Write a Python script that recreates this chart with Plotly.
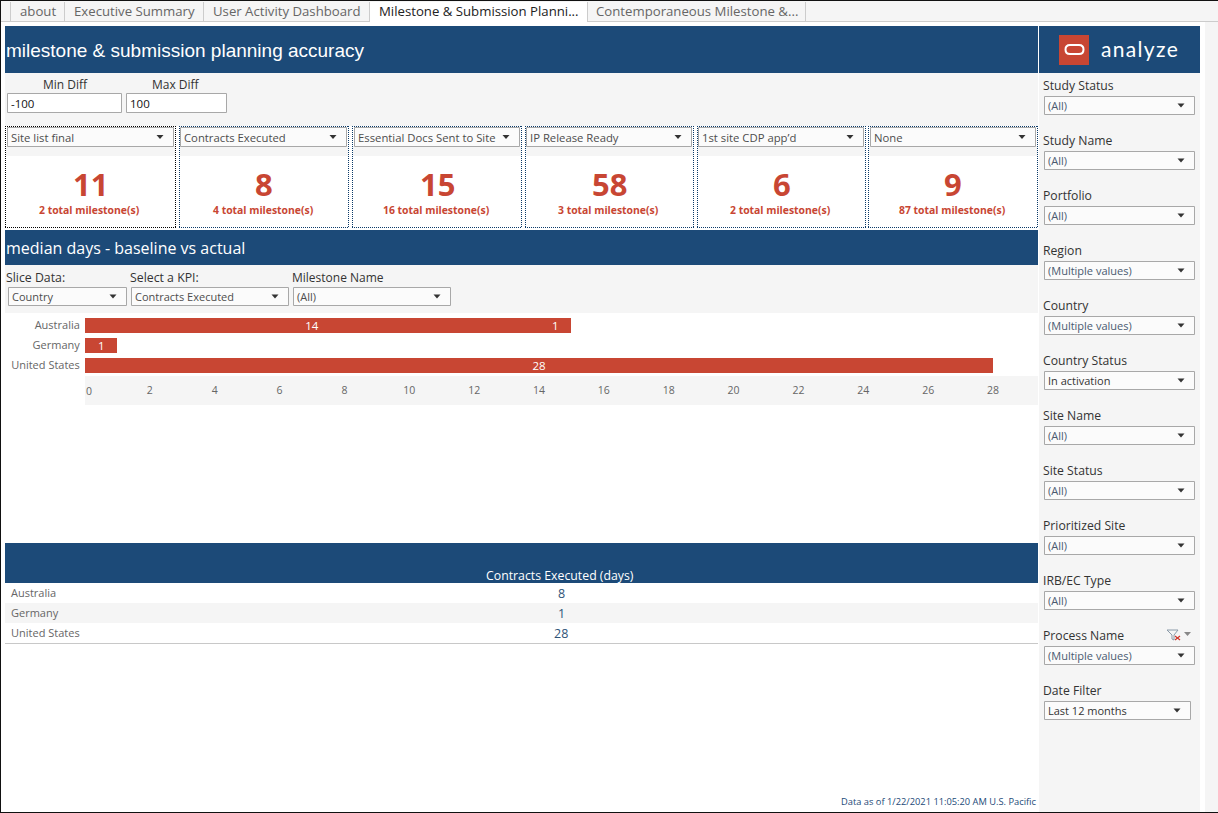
import plotly.graph_objects as go

# ---------- data ----------
categories = ["Australia", "Germany", "United States"]
first_segment = [14, 1, 28]
second_segment = [1, None, None]
axis_ticks = [0, 2, 4, 6, 8, 10, 12, 14, 16, 18, 20, 22, 24, 26, 28]
table_values = [8, 1, 28]
table_title = "Contracts Executed (days)"

kpi_names = ["Site list final", "Contracts Executed", "Essential Docs Sent to Site",
             "IP Release Ready", "1st site CDP app\u2019d", "None"]
kpi_values = [11, 8, 15, 58, 6, 9]
kpi_totals = [2, 4, 16, 3, 2, 87]

tabs = ["about", "Executive Summary", "User Activity Dashboard",
        "Milestone & Submission Planni...", "Contemporaneous Milestone &..."]
filter_names = ["Study Status", "Study Name", "Portfolio", "Region", "Country", "Country Status",
                "Site Name", "Site Status", "Prioritized Site", "IRB/EC Type", "Process Name", "Date Filter"]
filter_values = ["(All)", "(All)", "(All)", "(Multiple values)", "(Multiple values)", "In activation",
                 "(All)", "(All)", "(All)", "(All)", "(Multiple values)", "Last 12 months"]

# ---------- style ----------
W, H = 1218, 813
FONT = "Open Sans"
ARIAL = "Liberation Sans"
BLUE = "#1c4a78"
RED = "#c84633"
GREY = "#f5f5f5"
BOX = "#a8a8a8"

shapes, notes = [], []


def fx(x):
    return x / W


def fy(y):
    return 1 - y / H


def rect(x0, y0, x1, y1, fill=None, line=None, width=1, dash=None):
    shapes.append(dict(type="rect", xref="paper", yref="paper", layer="below",
                       x0=fx(x0), x1=fx(x1), y0=fy(y0), y1=fy(y1),
                       fillcolor=fill or "rgba(0,0,0,0)",
                       line=dict(color=line or "rgba(0,0,0,0)", width=width if line else 0, dash=dash)))


def seg(x0, y0, x1, y1, color, width=1, dash=None):
    shapes.append(dict(type="line", xref="paper", yref="paper", layer="below",
                       x0=fx(x0), x1=fx(x1), y0=fy(y0), y1=fy(y1),
                       line=dict(color=color, width=width, dash=dash)))


def poly(points, fill=None, line=None, width=1):
    d = "M " + " L ".join(f"{fx(a):.5f},{fy(b):.5f}" for a, b in points) + " Z"
    shapes.append(dict(type="path", xref="paper", yref="paper", layer="above", path=d,
                       fillcolor=fill or "rgba(0,0,0,0)",
                       line=dict(color=line or "rgba(0,0,0,0)", width=width if line else 0)))


def txt(x, y, s, size=12, color="#333333", anchor="left", font=FONT, bold=False):
    notes.append(dict(xref="paper", yref="paper", x=fx(x), y=fy(y), text=f"<b>{s}</b>" if bold else s,
                      showarrow=False, xanchor=anchor, yanchor="middle", borderpad=0, borderwidth=0,
                      font=dict(family=font, size=size, color=color)))


def dropdown(x0, y0, x1, y1, label, color="#4d4d4d", size=11, dy=0):
    rect(x0 + .5, y0 + .5, x1 - .5, y1 - .5, fill="#fbfbfb", line=BOX)
    txt(x0 + 4, (y0 + y1) / 2 + dy, label, size=size, color=color)
    ax = x1 - 14
    ay = (y0 + y1) / 2 - 2
    poly([(ax - 3.5, ay), (ax + 3.5, ay), (ax, ay + 4)], fill="#333333")


# window / tab strip
rect(0, 0, W, 22, fill=GREY)
rect(1205, 22, W, H, fill=GREY)
rect(370, 2, 587, 22, fill="white")
seg(0, 21.5, 370, 21.5, "#cccccc")
seg(587, 21.5, W, 21.5, "#cccccc")
tab_edges = [10.5, 64.5, 203.5, 369.5, 587.5, 805.5]
for e in tab_edges:
    seg(e, 2, e, 21, "#cccccc")
for i, t in enumerate(tabs):
    txt((tab_edges[i] + tab_edges[i + 1]) / 2, 11, t, size=13.2,
        color="#222222" if i == 3 else "#666666", anchor="center")

# main header
rect(5, 26, 1038, 73, fill=BLUE)
txt(6, 50.5, "milestone &amp; submission planning accuracy", size=19, color="white", font=ARIAL)
rect(1039, 26, 1200, 73, fill=BLUE)
shapes.append(dict(type="rect", xref="paper", yref="paper", layer="below", x0=fx(1059), x1=fx(1089),
                   y0=fy(35), y1=fy(65), fillcolor=RED, line=dict(width=0)))
shapes.append(dict(type="path", xref="paper", yref="paper", layer="above",
                   path=f"M {fx(1070)},{fy(45)} L {fx(1079)},{fy(45)} Q {fx(1083.5)},{fy(45)} {fx(1083.5)},{fy(49.5)} "
                        f"Q {fx(1083.5)},{fy(54)} {fx(1079)},{fy(54)} L {fx(1070)},{fy(54)} "
                        f"Q {fx(1065.5)},{fy(54)} {fx(1065.5)},{fy(49.5)} Q {fx(1065.5)},{fy(45)} {fx(1070)},{fy(45)} Z",
                   line=dict(color="white", width=2), fillcolor="rgba(0,0,0,0)"))
txt(1101, 49, "\u200a".join("analyze"), size=21, color="white", font="Lato")

# parameter strip
rect(5, 73, 1038, 126, fill=GREY)
txt(65, 84, "Min Diff", size=12, color="#333333", anchor="center")
txt(176, 84, "Max Diff", size=12, color="#333333", anchor="center")
for x0, x1, v in [(7, 122, "-100"), (126, 227, "100")]:
    rect(x0 + .5, 93.5, x1 - .5, 112.5, fill="white", line=BOX)
    txt(x0 + 4, 103, v, size=11.5, color="#111111")

# KPI cards
card_edges = [(5, 176), (179, 349), (352, 522), (525, 694), (697, 866), (868, 1038)]
box_edges = [(7, 174), (180, 347), (354, 520), (526, 692), (698, 864), (870, 1036)]
for i, (a, b) in enumerate(card_edges):
    rect(a + .5, 126.5, b - .5, 227.5, fill="white")
    rect(a + 1, 146, b - 1, 156, fill=GREY)
    border = "#000000" if i == 0 else "#0b3a68"
    # dotted edges start on whole pixels so each dot lands on one pixel
    seg(a, 126.5, b, 126.5, border, 1, "1px,1px")
    seg(a, 227.5, b, 227.5, border, 1, "1px,1px")
    seg(a + .5, 126, a + .5, 228, border, 1, "1px,1px")
    seg(b - .5, 126, b - .5, 228, border, 1, "1px,1px")
    dropdown(box_edges[i][0], 127, box_edges[i][1], 147, kpi_names[i], size=11.3, dy=0.5)
    mid = (a + b) / 2
    txt(mid, 184, str(kpi_values[i]), size=31, color=RED, anchor="center", bold=True)
    txt(mid - 1, 210.5, f"{kpi_totals[i]} total milestone(s)", size=10.4, color=RED, anchor="center", bold=True)

# median section
rect(5, 230, 1038, 265, fill=BLUE)
txt(6, 248, "median days - baseline vs actual", size=16, color="white")
rect(5, 265, 1038, 313, fill=GREY)
txt(6, 277, "Slice Data:", size=12.3)
txt(130, 277, "Select a KPI:", size=12.3)
txt(292, 277, "Milestone Name", size=12)
dropdown(8, 287, 127, 306, "Country")
dropdown(131, 287, 289, 306, kpi_names[1])
dropdown(293, 287, 451, 306, "(All)")
rect(85, 376, 1038, 405, fill=GREY)

# table
rect(5, 543, 1038, 583, fill=BLUE)
txt(560, 575, table_title, size=12.3, color="white", anchor="center")
rect(5, 603, 1038, 623, fill=GREY)
seg(5, 643.5, 1038, 643.5, "#c8c8c8")
for i, (c, v) in enumerate(zip(categories, table_values)):
    y = 593 + 20 * i
    txt(11, y - .5, c, size=11, color="#666666")
    txt(561, y + .5, str(v), size=12.5, color="#2f5378", anchor="center")

txt(1036, 801, "Data as of 1/22/2021 11:05:20 AM U.S. Pacific", size=9.3, color=BLUE, anchor="right")

# sidebar
rect(1039, 73, 1200, 812, fill=GREY)
for i, (n, v) in enumerate(zip(filter_names, filter_values)):
    y = 86 + 55 * i
    txt(1043, y - .5, n, size=12.2, color="#333333")
    right = 1191 if n == "Date Filter" else 1195
    dropdown(1044, y + 10, right, y + 29, v, color="#333333" if n in ("Country Status", "Date Filter") else "#4a5a70")

# clear-filter icon next to Process Name
poly([(1167, 630), (1178, 630), (1174, 635), (1174, 640), (1172, 639), (1172, 635)], line="#8a9aa8")
seg(1175, 636, 1180, 640, "#d0352a", 1.2)
seg(1180, 636, 1175, 640, "#d0352a", 1.2)
poly([(1184, 632), (1191, 632), (1187.5, 636)], fill="#888888")

# window edges
rect(0, 0, 1, H, fill="#111111")
rect(0, 0, W, 1, fill="#111111")
rect(0, 812, W, H, fill="#111111")

# ---------- bar chart ----------
fig = go.Figure()
for series in (first_segment, second_segment):
    fig.add_bar(y=categories, x=series, orientation="h", width=0.75, marker=dict(color=RED, line=dict(width=0)),
                text=[str(v) if v is not None else "" for v in series], textposition="inside",
                insidetextanchor="middle", textangle=0, constraintext="none",
                textfont=dict(family=FONT, size=11.5, color="white"), hoverinfo="skip", showlegend=False)

notes.append(dict(xref="x", yref="paper", x=axis_ticks[0], y=fy(390.5), xshift=4, text=str(axis_ticks[0]),
                  showarrow=False, xanchor="center", yanchor="middle", borderpad=0,
                  font=dict(family=FONT, size=10.5, color="#666666")))

fig.update_layout(
    width=W, height=H, autosize=False, margin=dict(l=0, r=0, t=0, b=0),
    paper_bgcolor="white", plot_bgcolor="rgba(0,0,0,0)", barmode="stack", bargap=0.25,
    shapes=shapes, annotations=notes, showlegend=False,
    xaxis=dict(domain=[fx(85), fx(1038)], range=[0, (1038 - 85) / ((993 - 85) / 28)],
               anchor="y", showgrid=False, zeroline=False, showline=False, fixedrange=True,
               tickmode="array", tickvals=axis_ticks[1:], ticktext=[str(t) for t in axis_ticks[1:]],
               ticks="outside", ticklen=5, tickcolor="rgba(0,0,0,0)",
               tickfont=dict(family=FONT, size=10.5, color="#666666")),
    yaxis=dict(domain=[fy(375), fy(315)], autorange=False, range=[2.5, -0.5], type="category",
               categoryorder="array", categoryarray=categories,
               showgrid=False, zeroline=False, showline=False, fixedrange=True,
               ticks="outside", ticklen=2, tickcolor="rgba(0,0,0,0)",
               tickfont=dict(family=FONT, size=11, color="#666666")),
)

fig.write_html("out.html", config=dict(displayModeBar=False),
               post_script="document.body.style.margin='0';")
